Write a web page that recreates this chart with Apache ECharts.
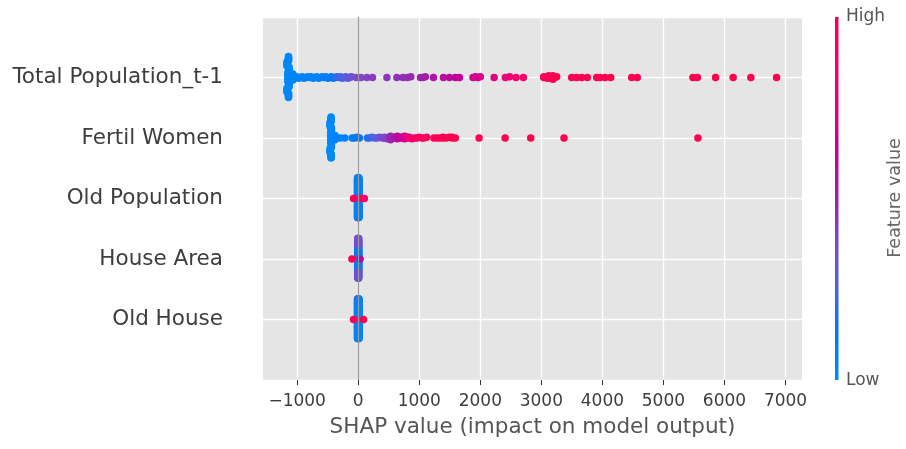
<!DOCTYPE html>
<html><head><meta charset="utf-8">
<script src="https://cdn.jsdelivr.net/npm/echarts@6/dist/echarts.min.js"></script>
<style>html,body{margin:0;padding:0;background:#fff}#c{width:906px;height:449px}</style>
</head><body><div id="c"></div>
<script>
// ---- data ----
const features = ['Total Population_t-1', 'Fertil Women', 'Old Population', 'House Area', 'Old House'];
const xTicks = [-1000, 0, 1000, 2000, 3000, 4000, 5000, 6000, 7000];

const totalPopShap = [
  -1150, -1135, -1165, -1142,
  -1110, -1090, -1070,
  -1040, -1010, -980, -950, -920, -890, -860, -830, -800, -770, -740, -710, -680, -650, -620, -590, -560, -530, -500,
  -470, -440, -410, -380,
  -350, -320, -290, -260, -230, -200,
  -170, -140, -110,
  -33, 44, 142, 234,
  470, 633, 732, 807, 862,
  1020, 1060, 1100,
  1232, 1396, 1494, 1590, 1658,
  1880, 1920, 1960, 2000,
  2226, 2410, 2480, 2586, 2705,
  3040, 3070, 3100, 3120, 3140, 3160, 3190, 3220, 3250,
  3497, 3579, 3661, 3753,
  3907, 3961, 4043, 4136,
  4480, 4571,
  5483, 5556, 5854, 6142, 6432, 6853
];
const totalPopFeat = [
  0, 0.02, 0, 0.03,
  0.03, 0.04, 0.04,
  0.03, 0.04, 0.03, 0.05, 0.04, 0.05, 0.04, 0.05, 0.06, 0.05, 0.06, 0.05, 0.06, 0.07, 0.06, 0.07, 0.08, 0.07, 0.08,
  0.1, 0.12, 0.13, 0.15,
  0.2, 0.22, 0.23, 0.25, 0.26, 0.28,
  0.3, 0.31, 0.33,
  0.37, 0.39, 0.4, 0.42,
  0.43, 0.45, 0.46, 0.47, 0.48,
  0.5, 0.51, 0.52,
  0.55, 0.58, 0.6, 0.62, 0.63,
  0.68, 0.7, 0.7, 0.72,
  0.76, 0.82, 0.84, 0.86, 0.88,
  0.95, 0.97, 0.96, 0.98, 0.97, 0.99, 0.98, 1, 0.99,
  0.98, 0.99, 1, 0.99,
  1, 0.99, 1, 1,
  1, 1,
  1, 1, 1, 1, 1, 1
];
const totalPopCount = [
  12, 12, 12, 12,
  3, 3, 2,
  1, 1, 1, 1, 1, 1, 1, 1, 1, 1, 1, 1, 1, 1, 1, 1, 1, 1, 1,
  1, 1, 1, 1,
  1, 1, 1, 1, 1, 1,
  1, 1, 1,
  1, 1, 1, 1,
  1, 1, 1, 1, 1,
  1, 1, 1,
  1, 1, 1, 1, 1,
  1, 1, 1, 1,
  1, 1, 1, 1, 1,
  2, 1, 2, 1, 2, 1, 2, 1, 1,
  1, 1, 1, 1,
  1, 1, 1, 1,
  1, 1,
  1, 1, 1, 1, 1, 1
];

const fertilShap = [
  -450, -440, -460, -445,
  -420, -400, -380,
  -350, -290, -220,
  -100, -60, -20, 20,
  150, 190, 230, 270, 310, 350, 390, 430, 470, 510,
  530, 560, 600, 640, 680, 720, 760, 800, 840, 880,
  920, 960, 1000, 1040, 1080, 1120,
  1240, 1290, 1340, 1390, 1440, 1490, 1540, 1590,
  1980, 2406, 2826, 3371, 5565
];
const fertilFeat = [
  0, 0.02, 0, 0.02,
  0.03, 0.03, 0.04,
  0.05, 0.05, 0.06,
  0.08, 0.1, 0.11, 0.13,
  0.18, 0.2, 0.23, 0.26, 0.29, 0.32, 0.35, 0.38, 0.41, 0.44,
  0.5, 0.48, 0.55, 0.58, 0.62, 0.66, 0.72, 0.78, 0.84, 0.88,
  0.9, 0.92, 0.93, 0.94, 0.95, 0.96,
  0.96, 0.97, 0.98, 0.98, 0.99, 1, 0.99, 1,
  1, 1, 1, 1, 1
];
const fertilCount = [
  12, 12, 12, 12,
  2, 2, 2,
  1, 1, 1,
  1, 1, 1, 1,
  1, 1, 1, 1, 1, 1, 1, 2, 1, 2,
  3, 2, 2, 2, 2, 2, 2, 2, 2, 1,
  1, 1, 1, 1, 1, 1,
  1, 1, 1, 2, 1, 1, 2, 1,
  1, 1, 1, 1, 1
];

const oldPopShap  = [-12, -8, -4, 0, 0, 4, 8, 12, 20, -77, 70, 100];
const oldPopFeat  = [0.05, 0.04, 0.06, 0.45, 0.05, 0.06, 0.04, 0.07, 0.5, 0.95, 1, 0.9];
const oldPopCount = [30, 30, 30, 1, 29, 30, 30, 30, 1, 1, 1, 1];

const houseAreaShap  = [-8, -8, -8, -4, -4, -4, 0, 0, 0, 0, 4, 4, 4, 4, 8, 8, 8, 30, -103];
const houseAreaFeat  = [0.45, 0.1, 0.35, 0.5, 0.08, 0.38, 0.6, 0.8, 0.12, 0.36, 0.45, 0.1, 0.35, 0.85, 0.4, 0.1, 0.33, 0.6, 0.98];
const houseAreaCount = [3, 15, 12, 3, 15, 12, 2, 1, 15, 12, 3, 14, 12, 1, 3, 15, 12, 1, 1];

const oldHouseShap  = [-12, -8, -4, 0, 0, 0, 4, 4, 4, 8, 12, -77, 87];
const oldHouseFeat  = [0.05, 0.06, 0.04, 0.5, 0.06, 0.85, 0.06, 0.8, 0.05, 0.07, 0.05, 0.95, 1];
const oldHouseCount = [30, 30, 30, 2, 27, 1, 12, 1, 17, 30, 30, 1, 1];

const cmap = ['#008bfa', '#0078f3', '#4b63e3', '#7d49cb', '#9c23ac', '#c2009c', '#e00086', '#f5006c', '#ff0050'];

// ---- layout helpers ----
function expand(shap, feat, count) {
  const s = [], f = [];
  for (let i = 0; i < shap.length; i++) {
    for (let k = 0; k < count[i]; k++) { s.push(shap[i]); f.push(feat[i]); }
  }
  return { s, f };
}
// deterministic beeswarm layout (same rule as shap's summary plot)
function beeswarm(shaps, rowHeight) {
  const n = shaps.length, nbins = 100;
  const mn = Math.min(...shaps), mx = Math.max(...shaps);
  const quant = shaps.map(v => Math.round(nbins * (v - mn) / (mx - mn + 1e-8)));
  const inds = shaps.map((_, i) => i).sort((a, b) => (quant[a] - quant[b]) || (a - b));
  const ys = new Array(n).fill(0);
  let layer = 0, last = -1;
  for (const ind of inds) {
    if (quant[ind] !== last) layer = 0;
    ys[ind] = Math.ceil(layer / 2) * ((layer % 2) * 2 - 1);
    layer++; last = quant[ind];
  }
  const m = Math.max(...ys.map(y => y + 1));
  return ys.map(y => y * 0.9 * (rowHeight / m));
}

const rows = [
  [totalPopShap, totalPopFeat, totalPopCount],
  [fertilShap, fertilFeat, fertilCount],
  [oldPopShap, oldPopFeat, oldPopCount],
  [houseAreaShap, houseAreaFeat, houseAreaCount],
  [oldHouseShap, oldHouseFeat, oldHouseCount]
];
const N = features.length;
const series = rows.map((r, i) => {
  const e = expand(r[0], r[1], r[2]);
  const ys = beeswarm(e.s, 0.4);
  const yc = N - 1 - i;
  return {
    type: 'scatter', name: features[i], silent: true, z: 3,
    symbolSize: 7.5, itemStyle: { opacity: 1 },
    data: e.s.map((x, j) => [x, yc + ys[j], e.f[j]])
  };
});
series.push({
  type: 'scatter', silent: true, z: 1, symbolSize: 0, data: [[0, -1]],
  markLine: { silent: true, symbol: 'none', animation: false, label: { show: false },
    lineStyle: { color: '#999999', width: 1.2, type: 'solid' }, data: [{ xAxis: 0 }] }
});

const FONT = 'DejaVu Sans';
const chart = echarts.init(document.getElementById('c'));
chart.setOption({
  animation: false,
  textStyle: { fontFamily: FONT },
  grid: { left: 263, top: 17, width: 539, height: 363, show: true, backgroundColor: '#e5e5e5', borderWidth: 0, containLabel: false, outerBoundsMode: 'none' },
  visualMap: { type: 'continuous', show: false, dimension: 2, min: 0, max: 1, seriesIndex: [0, 1, 2, 3, 4], inRange: { color: cmap } },
  xAxis: {
    type: 'value', min: -1560, max: 7270,
    axisLine: { show: false, onZero: false },
    axisTick: { show: true, customValues: xTicks, length: 5, lineStyle: { color: '#333', width: 1 } },
    axisLabel: { customValues: xTicks, fontSize: 17, color: '#3d3d3d', margin: 13, fontFamily: FONT,
      formatter: v => (v < 0 ? '\u2212' + Math.abs(v) : String(v)) },
    splitLine: { show: true, lineStyle: { color: '#ffffff', width: 1.3 } },
    name: 'SHAP value (impact on model output)', nameLocation: 'middle', nameGap: 36,
    nameTextStyle: { fontSize: 21.5, color: '#555', fontFamily: FONT }
  },
  yAxis: {
    type: 'value', min: -1, max: 5, interval: 1,
    axisLine: { show: false }, axisTick: { show: false },
    axisLabel: { fontSize: 21.5, color: '#3d3d3d', margin: 40, fontFamily: FONT,
      formatter: v => features[N - 1 - v] || '' },
    splitLine: { show: true, lineStyle: { color: '#ffffff', width: 1.3 } }
  },
  graphic: [
    { type: 'rect', silent: true, shape: { x: 835, y: 17, width: 3.5, height: 363 },
      style: { fill: new echarts.graphic.LinearGradient(0, 0, 0, 1,
        cmap.slice().reverse().map((c, i) => ({ offset: i / (cmap.length - 1), color: c }))) } },
    { type: 'text', silent: true, x: 846, y: 17, style: { text: 'High', fontSize: 17, fontFamily: FONT, fill: '#555', verticalAlign: 'middle', align: 'left' } },
    { type: 'text', silent: true, x: 846, y: 381, style: { text: 'Low', fontSize: 17, fontFamily: FONT, fill: '#555', verticalAlign: 'middle', align: 'left' } },
    { type: 'text', silent: true, x: 895, y: 198, rotation: Math.PI / 2,
      style: { text: 'Feature value', fontSize: 17.5, fontFamily: FONT, fill: '#666', verticalAlign: 'middle', align: 'center' } }
  ],
  series: series
});
</script>
</body></html>
